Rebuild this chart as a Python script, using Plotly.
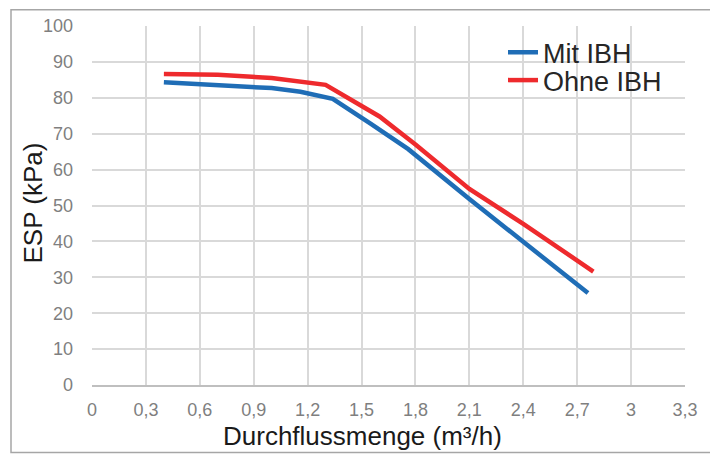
import plotly.graph_objects as go

# Data
flow_mit = [0.40, 0.70, 1.00, 1.16, 1.34, 1.55, 1.76, 2.10, 2.40, 2.76]
esp_mit = [84.3, 83.6, 82.7, 81.7, 79.7, 72.8, 65.7, 51.8, 39.9, 25.6]

flow_ohne = [0.40, 0.70, 1.00, 1.20, 1.30, 1.60, 1.80, 2.10, 2.40, 2.79]
esp_ohne = [86.6, 86.4, 85.5, 84.4, 83.6, 74.8, 67.0, 54.6, 44.9, 31.6]

x_ticks = [0, 0.3, 0.6, 0.9, 1.2, 1.5, 1.8, 2.1, 2.4, 2.7, 3.0, 3.3]
x_tick_labels = ["0", "0,3", "0,6", "0,9", "1,2", "1,5", "1,8", "2,1", "2,4", "2,7", "3", "3,3"]
y_ticks = [0, 10, 20, 30, 40, 50, 60, 70, 80, 90, 100]
y_tick_labels = [str(v) for v in y_ticks]

W, H = 710, 457
ml, mr, mt, mb = 92, 25, 26, 69
pw = W - ml - mr
ph = H - mt - mb

def px_x(p):
    return (p - ml) / pw

def px_y(p):
    return (H - mb - p) / ph

tick_font = dict(family="Liberation Sans Narrow, Arial Narrow, Liberation Sans, Arial", size=18, color="#7f7f7f")
title_font = dict(family="Liberation Sans, Arial", size=26, color="#1a1a1a")
legend_font = dict(family="Liberation Sans, Arial", size=27, color="#262626")

fig = go.Figure()
fig.add_trace(go.Scatter(x=flow_mit, y=esp_mit, mode="lines", name="Mit IBH",
                         line=dict(color="#1f6db6", width=4.5), legend="legend"))
fig.add_trace(go.Scatter(x=flow_ohne, y=esp_ohne, mode="lines", name="Ohne IBH",
                         line=dict(color="#ee2a2d", width=4.5), legend="legend2"))

legend_common = dict(xanchor="left", yanchor="middle", font=legend_font,
                     bgcolor="rgba(0,0,0,0)", borderwidth=0)

fig.update_layout(
    width=W, height=H,
    margin=dict(l=ml, r=mr, t=mt, b=mb),
    paper_bgcolor="white", plot_bgcolor="white",
    showlegend=True,
    legend=dict(x=px_x(503), y=px_y(53), **legend_common),
    legend2=dict(x=px_x(503), y=px_y(81), **legend_common),
    xaxis=dict(range=[0, 3.3], tickvals=x_ticks, ticktext=x_tick_labels,
               showgrid=True, gridcolor="#d9d9d9", gridwidth=1.5,
               showline=True, linecolor="#bfbfbf", linewidth=1.5,
               zeroline=False, ticks="", ticklabelstandoff=8,
               tickfont=tick_font,
               title=dict(text="")),
    yaxis=dict(range=[0, 100], tickvals=y_ticks, ticktext=y_tick_labels,
               showgrid=True, gridcolor="#d9d9d9", gridwidth=1.5,
               showline=False, zeroline=False, ticks="", ticklabelstandoff=18,
               tickfont=tick_font,
               title=dict(text="")),
    annotations=[
        dict(text="Durchflussmenge (m³/h)", xref="paper", yref="paper",
             x=px_x(362), y=px_y(439), xanchor="center", yanchor="middle",
             showarrow=False, font=title_font),
        dict(text="ESP (kPa)", xref="paper", yref="paper", textangle=-90,
             x=px_x(33), y=px_y(205), xanchor="center", yanchor="middle",
             showarrow=False, font=title_font),
    ],
    shapes=[dict(type="rect", xref="paper", yref="paper",
                 x0=px_x(11), x1=px_x(715), y0=px_y(456), y1=px_y(9.5),
                 line=dict(color="#a6a6a6", width=1.5), fillcolor="rgba(0,0,0,0)",
                 layer="below")],
)

fig.write_html("out.html", config={"displayModeBar": False})

# remove default page margin so the figure sits at the window's top-left corner
with open("out.html", "r", encoding="utf-8") as f:
    html = f.read()
html = html.replace("<head>", "<head><style>html,body{margin:0;padding:0;overflow:hidden;}</style>", 1)
with open("out.html", "w", encoding="utf-8") as f:
    f.write(html)
